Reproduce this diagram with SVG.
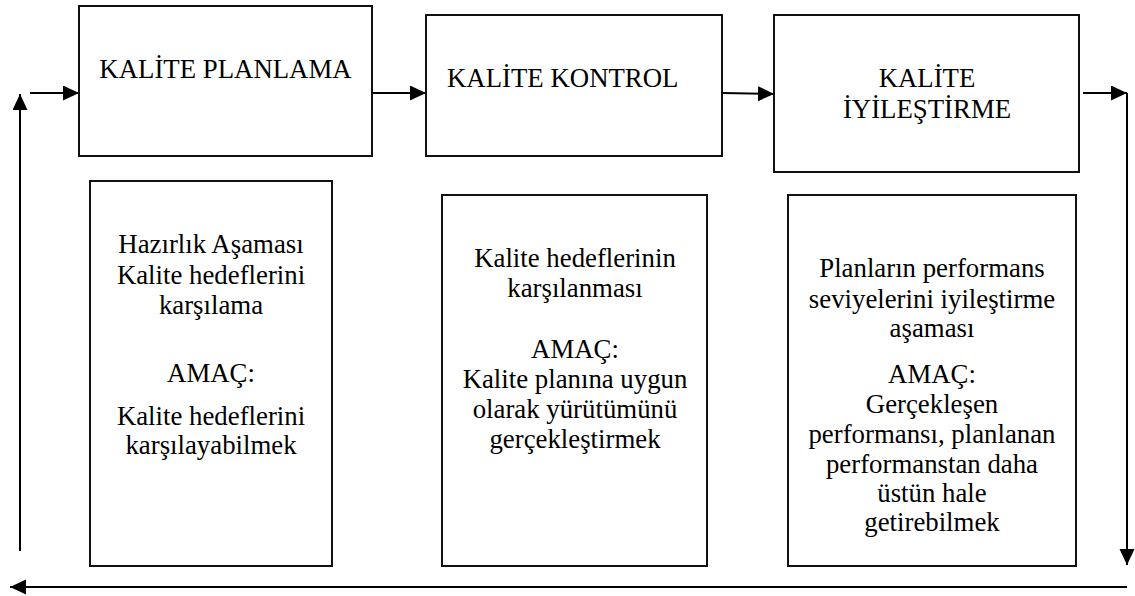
<svg xmlns="http://www.w3.org/2000/svg" width="1135" height="596" viewBox="0 0 1135 596">
<style>
.nodebox{fill:#fff;stroke:#111;stroke-width:2}
.lbl{font-family:'Liberation Serif',serif;font-size:26.8px;fill:#000}
.mid{text-anchor:middle}
.conn{stroke:#000;stroke-width:2;fill:none}
</style>
<defs>
<marker id="ah" markerUnits="userSpaceOnUse" markerWidth="16" markerHeight="16" refX="16" refY="7.5" orient="auto">
<path d="M0,0 L16,7.5 L0,15 z" fill="#000"/>
</marker>
</defs>
<rect width="1135" height="596" fill="#fff"/>
<g id="connectors">
<line class="conn" x1="20" y1="551" x2="20" y2="94" marker-end="url(#ah)"/>
<line class="conn" x1="30" y1="93" x2="79" y2="93" marker-end="url(#ah)"/>
<line class="conn" x1="372" y1="93" x2="426" y2="93" marker-end="url(#ah)"/>
<line class="conn" x1="722" y1="93" x2="774" y2="94" marker-end="url(#ah)"/>
<line class="conn" x1="1083" y1="93" x2="1127" y2="93" marker-end="url(#ah)"/>
<line class="conn" x1="1127" y1="93" x2="1127" y2="565" marker-end="url(#ah)"/>
<line class="conn" x1="1127" y1="587" x2="10" y2="587" marker-end="url(#ah)"/>
</g>
<g id="kalite-planlama">
<rect class="nodebox" x="79" y="6" width="293" height="150"/>
<text class="lbl mid" font-family="Liberation Serif" x="225.5" y="78">KALİTE PLANLAMA</text>
</g>
<g id="kalite-kontrol">
<rect class="nodebox" x="426" y="15" width="296" height="141"/>
<text class="lbl" font-family="Liberation Serif" x="447" y="87">KALİTE KONTROL</text>
</g>
<g id="kalite-iyilestirme">
<rect class="nodebox" x="774" y="15" width="305" height="157"/>
<text class="lbl mid" font-family="Liberation Serif" x="927" y="87">KALİTE</text>
<text class="lbl mid" font-family="Liberation Serif" x="927" y="118">İYİLEŞTİRME</text>
</g>
<g id="planlama-detay">
<rect class="nodebox" x="90" y="181" width="242" height="385"/>
<text class="lbl mid" font-family="Liberation Serif" x="211" y="253">Hazırlık Aşaması</text>
<text class="lbl mid" font-family="Liberation Serif" x="211" y="284">Kalite hedeflerini</text>
<text class="lbl mid" font-family="Liberation Serif" x="211" y="314">karşılama</text>
<text class="lbl mid" font-family="Liberation Serif" x="211" y="382">AMAÇ:</text>
<text class="lbl mid" font-family="Liberation Serif" x="211" y="425">Kalite hedeflerini</text>
<text class="lbl mid" font-family="Liberation Serif" x="211" y="454">karşılayabilmek</text>
</g>
<g id="kontrol-detay">
<rect class="nodebox" x="442" y="195" width="265" height="371"/>
<text class="lbl mid" font-family="Liberation Serif" x="575" y="267">Kalite hedeflerinin</text>
<text class="lbl mid" font-family="Liberation Serif" x="575" y="297">karşılanması</text>
<text class="lbl mid" font-family="Liberation Serif" x="575" y="358">AMAÇ:</text>
<text class="lbl mid" font-family="Liberation Serif" x="575" y="388">Kalite planına uygun</text>
<text class="lbl mid" font-family="Liberation Serif" x="575" y="418">olarak yürütümünü</text>
<text class="lbl mid" font-family="Liberation Serif" x="575" y="448">gerçekleştirmek</text>
</g>
<g id="iyilestirme-detay">
<rect class="nodebox" x="788" y="195" width="288" height="371"/>
<text class="lbl mid" font-family="Liberation Serif" x="932" y="277">Planların performans</text>
<text class="lbl mid" font-family="Liberation Serif" x="932" y="308">seviyelerini iyileştirme</text>
<text class="lbl mid" font-family="Liberation Serif" x="932" y="337">aşaması</text>
<text class="lbl mid" font-family="Liberation Serif" x="932" y="383">AMAÇ:</text>
<text class="lbl mid" font-family="Liberation Serif" x="932" y="413">Gerçekleşen</text>
<text class="lbl mid" font-family="Liberation Serif" x="932" y="443">performansı, planlanan</text>
<text class="lbl mid" font-family="Liberation Serif" x="932" y="473">performanstan daha</text>
<text class="lbl mid" font-family="Liberation Serif" x="932" y="502">üstün hale</text>
<text class="lbl mid" font-family="Liberation Serif" x="932" y="531">getirebilmek</text>
</g>
</svg>
